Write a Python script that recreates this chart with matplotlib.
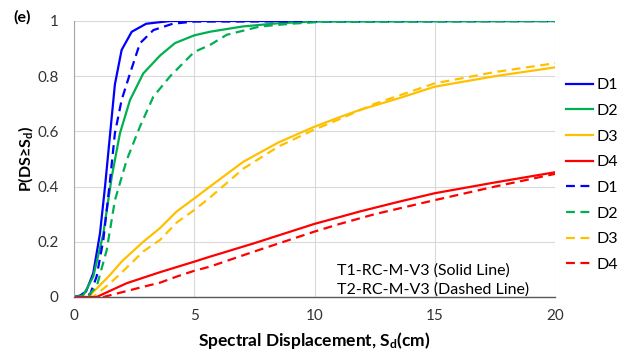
import matplotlib
matplotlib.use("Agg")
import matplotlib.pyplot as plt
from matplotlib.lines import Line2D

plt.rcParams["font.family"] = ["Lato", "DejaVu Sans"]
plt.rcParams["mathtext.fontset"] = "custom"
plt.rcParams["mathtext.rm"] = "Lato"
plt.rcParams["mathtext.bf"] = "Lato:bold"
plt.rcParams["mathtext.it"] = "Lato:italic"

# T1-RC-M-V3 (solid)
t1_d1_x = [0, 0.25, 0.5, 0.8, 1.08, 1.29, 1.5, 1.7, 1.98, 2.4, 3.0, 4.0, 20]
t1_d1_y = [0, 0.005, 0.02, 0.086, 0.23, 0.40, 0.59, 0.77, 0.895, 0.961, 0.99, 1.0, 1.0]
t1_d2_x = [0, 0.39, 0.8, 1.22, 1.57, 1.91, 2.33, 2.88, 3.58, 4.2, 5.0, 5.65, 7.0, 8.5, 10, 20]
t1_d2_y = [0, 0.007, 0.074, 0.23, 0.436, 0.593, 0.714, 0.81, 0.875, 0.92, 0.948, 0.961, 0.98, 0.992, 0.998, 1.0]
t1_d3_x = [0, 0.6, 1.5, 2.0, 2.88, 3.58, 4.27, 5.0, 5.65, 7.04, 8.5, 10, 11.06, 11.89, 13.5, 15, 17.5, 20]
t1_d3_y = [0, 0, 0.08, 0.13, 0.20, 0.25, 0.31, 0.357, 0.40, 0.49, 0.56, 0.617, 0.652, 0.678, 0.72, 0.762, 0.80, 0.832]
t1_d4_x = [0, 0.94, 2.19, 3.58, 5.0, 5.65, 7.5, 10, 11.06, 11.89, 13.5, 15, 17.5, 20]
t1_d4_y = [0, 0, 0.05, 0.09, 0.128, 0.146, 0.195, 0.265, 0.29, 0.31, 0.345, 0.376, 0.415, 0.452]

# T2-RC-M-V3 (dashed)
t2_d1_x = [0, 0.67, 0.94, 1.22, 1.5, 1.7, 1.98, 2.33, 2.74, 3.3, 4.1, 5.0, 20]
t2_d1_y = [0, 0.01, 0.074, 0.207, 0.424, 0.593, 0.714, 0.81, 0.919, 0.967, 0.99, 0.998, 1.0]
t2_d2_x = [0, 0.6, 0.94, 1.36, 1.7, 2.19, 2.74, 3.3, 4.0, 5.0, 5.65, 6.35, 7.73, 9.0, 10.5, 20]
t2_d2_y = [0, 0.007, 0.037, 0.17, 0.35, 0.496, 0.617, 0.726, 0.80, 0.888, 0.913, 0.95, 0.98, 0.99, 0.998, 1.0]
t2_d3_x = [0, 0.8, 1.5, 2.0, 2.88, 3.58, 4.27, 5.0, 5.65, 7.04, 8.5, 9.95, 11.06, 12.5, 15, 17.5, 20]
t2_d3_y = [0, 0, 0.05, 0.09, 0.165, 0.207, 0.27, 0.315, 0.36, 0.465, 0.545, 0.605, 0.645, 0.70, 0.774, 0.815, 0.847]
t2_d4_x = [0, 1.22, 2.88, 3.58, 4.27, 5.0, 5.65, 7.5, 10, 11.06, 12.5, 15, 17.5, 20]
t2_d4_y = [0, 0, 0.037, 0.052, 0.074, 0.095, 0.11, 0.165, 0.237, 0.265, 0.30, 0.351, 0.40, 0.446]

labels = ["D1", "D2", "D3", "D4"]
colors = ["#0000ff", "#00b050", "#ffc000", "#ff0000"]
x_ticks = [0, 5, 10, 15, 20]
y_ticks = [0, 0.2, 0.4, 0.6, 0.8, 1]
y_tick_labels = ["0", "0.2", "0.4", "0.6", "0.8", "1"]

solid = [(t1_d1_x, t1_d1_y), (t1_d2_x, t1_d2_y), (t1_d3_x, t1_d3_y), (t1_d4_x, t1_d4_y)]
dashed = [(t2_d1_x, t2_d1_y), (t2_d2_x, t2_d2_y), (t2_d3_x, t2_d3_y), (t2_d4_x, t2_d4_y)]
dash = (4, 2.5)

fig = plt.figure(figsize=(6.21, 3.58), dpi=100)
ax = fig.add_axes([74 / 621, 61 / 358, 481 / 621, 276 / 358])

for (x, y), c in zip(solid, colors):
    ax.plot(x, y, color=c, lw=1.6, solid_joinstyle="round")
for (x, y), c in zip(dashed, colors):
    ax.plot(x, y, color=c, lw=1.6, dashes=dash)

ax.set_xlim(0, 20)
ax.set_ylim(0, 1)
ax.set_xticks(x_ticks)
ax.set_yticks(y_ticks)
ax.set_yticklabels(y_tick_labels)
ax.tick_params(length=0, labelsize=11, colors="#333333")
ax.tick_params(axis="x", pad=9)
ax.tick_params(axis="y", pad=11)
ax.grid(True, color="#d9d9d9", lw=0.8)
ax.set_axisbelow(True)
for s in ["top", "right"]:
    ax.spines[s].set_visible(False)
ax.spines["left"].set_color("#a6a6a6")
ax.spines["bottom"].set_color("#595959")
ax.spines["bottom"].set_linewidth(1.0)

ax.set_xlabel(r"Spectral Displacement, S$_\mathbf{d}$(cm)", fontsize=12.5, fontweight="bold", labelpad=5)
ax.set_ylabel(r"P(DS≥S$_\mathbf{d}$)", fontsize=11.5, fontweight="bold")
ax.yaxis.set_label_coords(-39 / 481, 0.5)

ax.text(0.547, 0.08, "T1-RC-M-V3 (Solid Line)", transform=ax.transAxes, fontsize=11.5)
ax.text(0.547, 0.012, "T2-RC-M-V3 (Dashed Line)", transform=ax.transAxes, fontsize=11.5)

fig.text(13 / 621, 1 - 17 / 358, "(e)", fontsize=11.5, fontweight="bold", va="center", ha="left")

handles = [Line2D([], [], color=c, lw=1.6) for c in colors]
handles += [Line2D([], [], color=c, lw=1.6, dashes=dash) for c in colors]
fig.legend(handles, labels + labels, loc="upper left", bbox_to_anchor=(566 / 621, 1 - 78 / 358),
           frameon=False, fontsize=11.5, handlelength=1.7, handletextpad=0.2,
           labelspacing=0.72, borderaxespad=0, borderpad=0)

fig.savefig("out.png", dpi=100)
